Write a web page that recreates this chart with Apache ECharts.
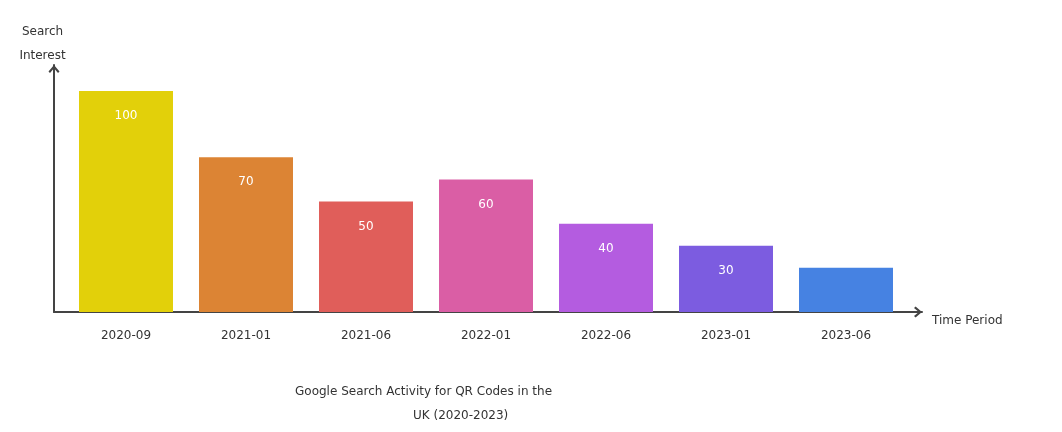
<!DOCTYPE html>
<html><head><meta charset="utf-8">
<script src="https://cdn.jsdelivr.net/npm/echarts@6/dist/echarts.min.js"></script>
<style>html,body{margin:0;padding:0;background:#fff}#c{width:1062px;height:432px}</style>
</head><body><div id="c"></div>
<script>
const categories = ['2020-09','2021-01','2021-06','2022-01','2022-06','2023-01','2023-06'];
const values = [100, 70, 50, 60, 40, 30, 20];
const showLabel = [true, true, true, true, true, true, false];
const colors = ['#E2D00A','#DC8434','#E05E5A','#DA5EA5','#B45CE0','#7C5CE0','#4682E2'];
const titleLines = ['Google Search Activity for QR Codes in the', 'UK (2020-2023)'];
const yName = 'Search\nInterest';
const xName = 'Time Period';

const font = 'DejaVu Sans';
const chev = 'path://M5.5,0 L11,6.4 L9.5,8 L5.5,3.2 L1.5,8 L0,6.4 Z';
const chart = echarts.init(document.getElementById('c'), null, {renderer:'canvas'});
chart.setOption({
  animation: false,
  textStyle: {fontFamily: font},
  title: [
    {text: titleLines[0], left: 290, top: 381, textStyle:{fontFamily:font, fontSize:12, fontWeight:'normal', color:'#333'}},
    {text: titleLines[1], left: 408, top: 405, textStyle:{fontFamily:font, fontSize:12, fontWeight:'normal', color:'#333'}}
  ],
  grid: [
    {left: 54, top: 65, width: 868, height: 247},
    {left: 66, top: 69, width: 840, height: 243}
  ],
  xAxis: [
    {gridIndex:0, type:'value', min:0, max:1, splitLine:{show:false}, axisTick:{show:false}, axisLabel:{show:false},
     axisLine:{show:true, lineStyle:{color:'#444', width:2}, symbol:['none', chev], symbolSize:[12,8], symbolOffset:[0,-4]},
     name: xName, nameLocation:'end', nameGap: 10,
     nameTextStyle:{fontFamily:font, fontSize:12, color:'#333', verticalAlign:'top', padding:[3,0,0,0]}},
    {gridIndex:1, type:'category', data: categories, axisLine:{show:false}, axisTick:{show:false},
     axisLabel:{fontFamily:font, fontSize:12, color:'#333', margin:18}}
  ],
  yAxis: [
    {gridIndex:0, type:'value', min:0, max:1, splitLine:{show:false}, axisTick:{show:false}, axisLabel:{show:false},
     axisLine:{show:true, lineStyle:{color:'#444', width:2}, symbol:['none', chev], symbolSize:[12,8], symbolOffset:[0,-4]},
     name: yName, nameLocation:'end', nameGap: -3,
     nameTextStyle:{fontFamily:font, fontSize:12, color:'#333', lineHeight:24, align:'center', padding:[0,23,0,0]}},
    {gridIndex:1, type:'value', min:0, max:110, show:false}
  ],
  series: [{
    type:'bar', xAxisIndex:1, yAxisIndex:1, barWidth:94,
    data: values.map((v,i)=>({value:v, itemStyle:{color:colors[i]}, label:{show:showLabel[i]}})),
    label:{show:true, position:'insideTop', distance:19, color:'#fff', fontFamily:font, fontSize:12}
  }]
});
</script></body></html>
